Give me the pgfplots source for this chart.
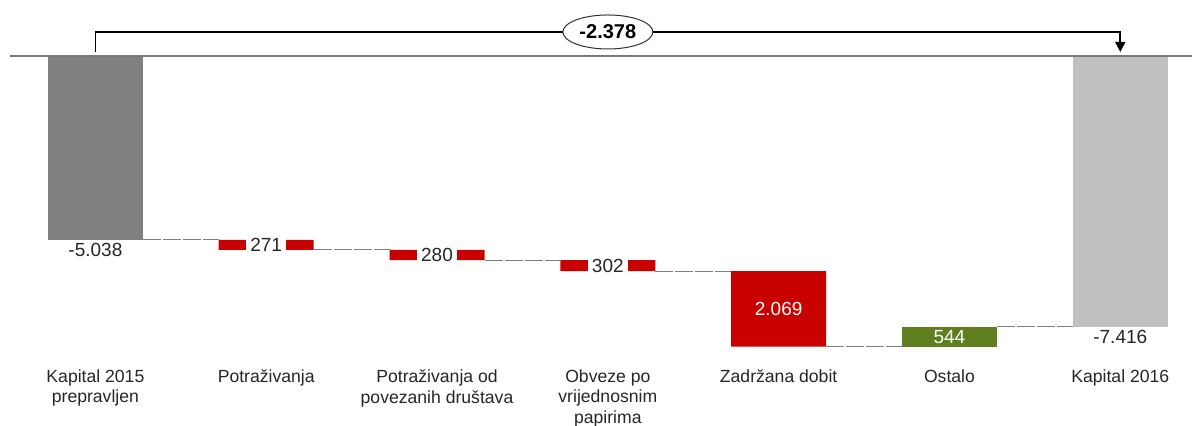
\documentclass[border=0pt]{standalone}
\usepackage{fontspec}
\setmainfont{Liberation Sans}
\usepackage{pgfplots}
\pgfplotsset{compat=1.18}
\usepackage{pgfplotstable}
\usetikzlibrary{arrows.meta,shapes.geometric}
\definecolor{dgray}{RGB}{128,128,128}
\definecolor{lgray}{RGB}{192,192,192}
\definecolor{wred}{RGB}{200,0,0}
\definecolor{wgreen}{RGB}{95,126,30}
\definecolor{zline}{RGB}{120,120,120}

\pgfplotstableread{
x base dg red green lg
0 0 -5038 0 0 0
1 -5038 0 -271 0 0
2 -5309 0 -280 0 0
3 -5589 0 -302 0 0
4 -5891 0 -2069 0 0
5 -7960 0 0 544 0
6 0 0 0 0 -7416
}\bars

\pgfplotstableread{
x y
0.278 -5038
0.722 -5038
nan nan
1.278 -5309
1.722 -5309
nan nan
2.278 -5589
2.722 -5589
nan nan
3.278 -5891
3.722 -5891
nan nan
4.278 -7960
4.722 -7960
nan nan
5.278 -7416
5.722 -7416
}\connectors

\pgfplotstableread{
x y label
0 -5038 -5.038
6 -7416 -7.416
}\labelsbelow

\pgfplotstableread{
x y label
1 -5173.5 271
2 -5449 280
3 -5740 302
}\labelsgap

\pgfplotstableread{
x y label
4 -6925.5 2.069
5 -7688 544
}\labelsin

\begin{document}
\begin{tikzpicture}
\pgfplotsset{
  base/.style={
    width=591pt, height=183.2pt, scale only axis,
    xmin=-0.5, xmax=6.42, ymin=-8500, ymax=1533,
    clip=false,
  }
}
\begin{axis}[base,
  axis y line=none, axis x line*=bottom, x axis line style={draw=none},
  ybar stacked, stack negative=on previous, bar width=47.5pt,
  xtick=data,
  major tick length=0pt,
  xticklabels={{Kapital 2015\\prepravljen},{Potraživanja},{Potraživanja od\\povezanih društava},{Obveze po\\vrijednosnim\\papirima},{Zadržana dobit},{Ostalo},{Kapital 2016}},
  xticklabel style={align=center, anchor=north, inner sep=1.6pt, font=\fontsize{8.8}{10.1}\selectfont, text=black!85},
  ytick=\empty,
]
\addplot[draw=none, fill=none] table[x=x, y=base] {\bars};
\addplot[draw=none, fill=dgray] table[x=x, y=dg] {\bars};
\addplot[draw=none, fill=wred] table[x=x, y=red] {\bars};
\addplot[draw=none, fill=wgreen] table[x=x, y=green] {\bars};
\addplot[draw=none, fill=lgray] table[x=x, y=lg] {\bars};
\coordinate (nw) at (rel axis cs:0,1);
\end{axis}
\begin{axis}[base, axis lines=none, xtick=\empty, ytick=\empty, unbounded coords=jump]
\addplot[zline, line width=0.8pt] coordinates {(-0.5,0) (6.42,0)};
\addplot[gray, line width=0.5pt, dash pattern=on 9pt off 1pt] table[x=x,y=y] {\connectors};
\addplot[draw=none, no markers, nodes near coords, point meta=explicit symbolic,
  nodes near coords style={anchor=north, inner sep=1.5pt, font=\fontsize{9.5}{11}\selectfont, text=black!85}]
  table[x=x, y=y, meta=label] {\labelsbelow};
\addplot[draw=none, no markers, nodes near coords, point meta=explicit symbolic,
  nodes near coords style={anchor=center, fill=white, inner xsep=2.2pt, inner ysep=0.5pt, font=\fontsize{9.5}{11}\selectfont, text=black!85}]
  table[x=x, y=y, meta=label] {\labelsgap};
\addplot[draw=none, no markers, nodes near coords, point meta=explicit symbolic,
  nodes near coords style={anchor=center, font=\fontsize{9.5}{11}\selectfont, text=white}]
  table[x=x, y=y, meta=label] {\labelsin};
\draw[black, line width=0.8pt, -{Triangle[width=5pt,length=5pt]}]
  (axis cs:0,110) -- (axis cs:0,657) -- (axis cs:6,657) -- (axis cs:6,110);
\node[ellipse, draw=black!80, line width=0.5pt, fill=white, inner sep=0pt, minimum width=45pt, minimum height=17pt,
  font=\fontsize{10}{12}\selectfont\bfseries] at (axis cs:3,657) {-2.378};
\end{axis}
\pgfresetboundingbox
\path[use as bounding box] ([xshift=-5pt]nw) rectangle ([xshift=591pt, yshift=-213pt]nw);
\end{tikzpicture}
\end{document}
